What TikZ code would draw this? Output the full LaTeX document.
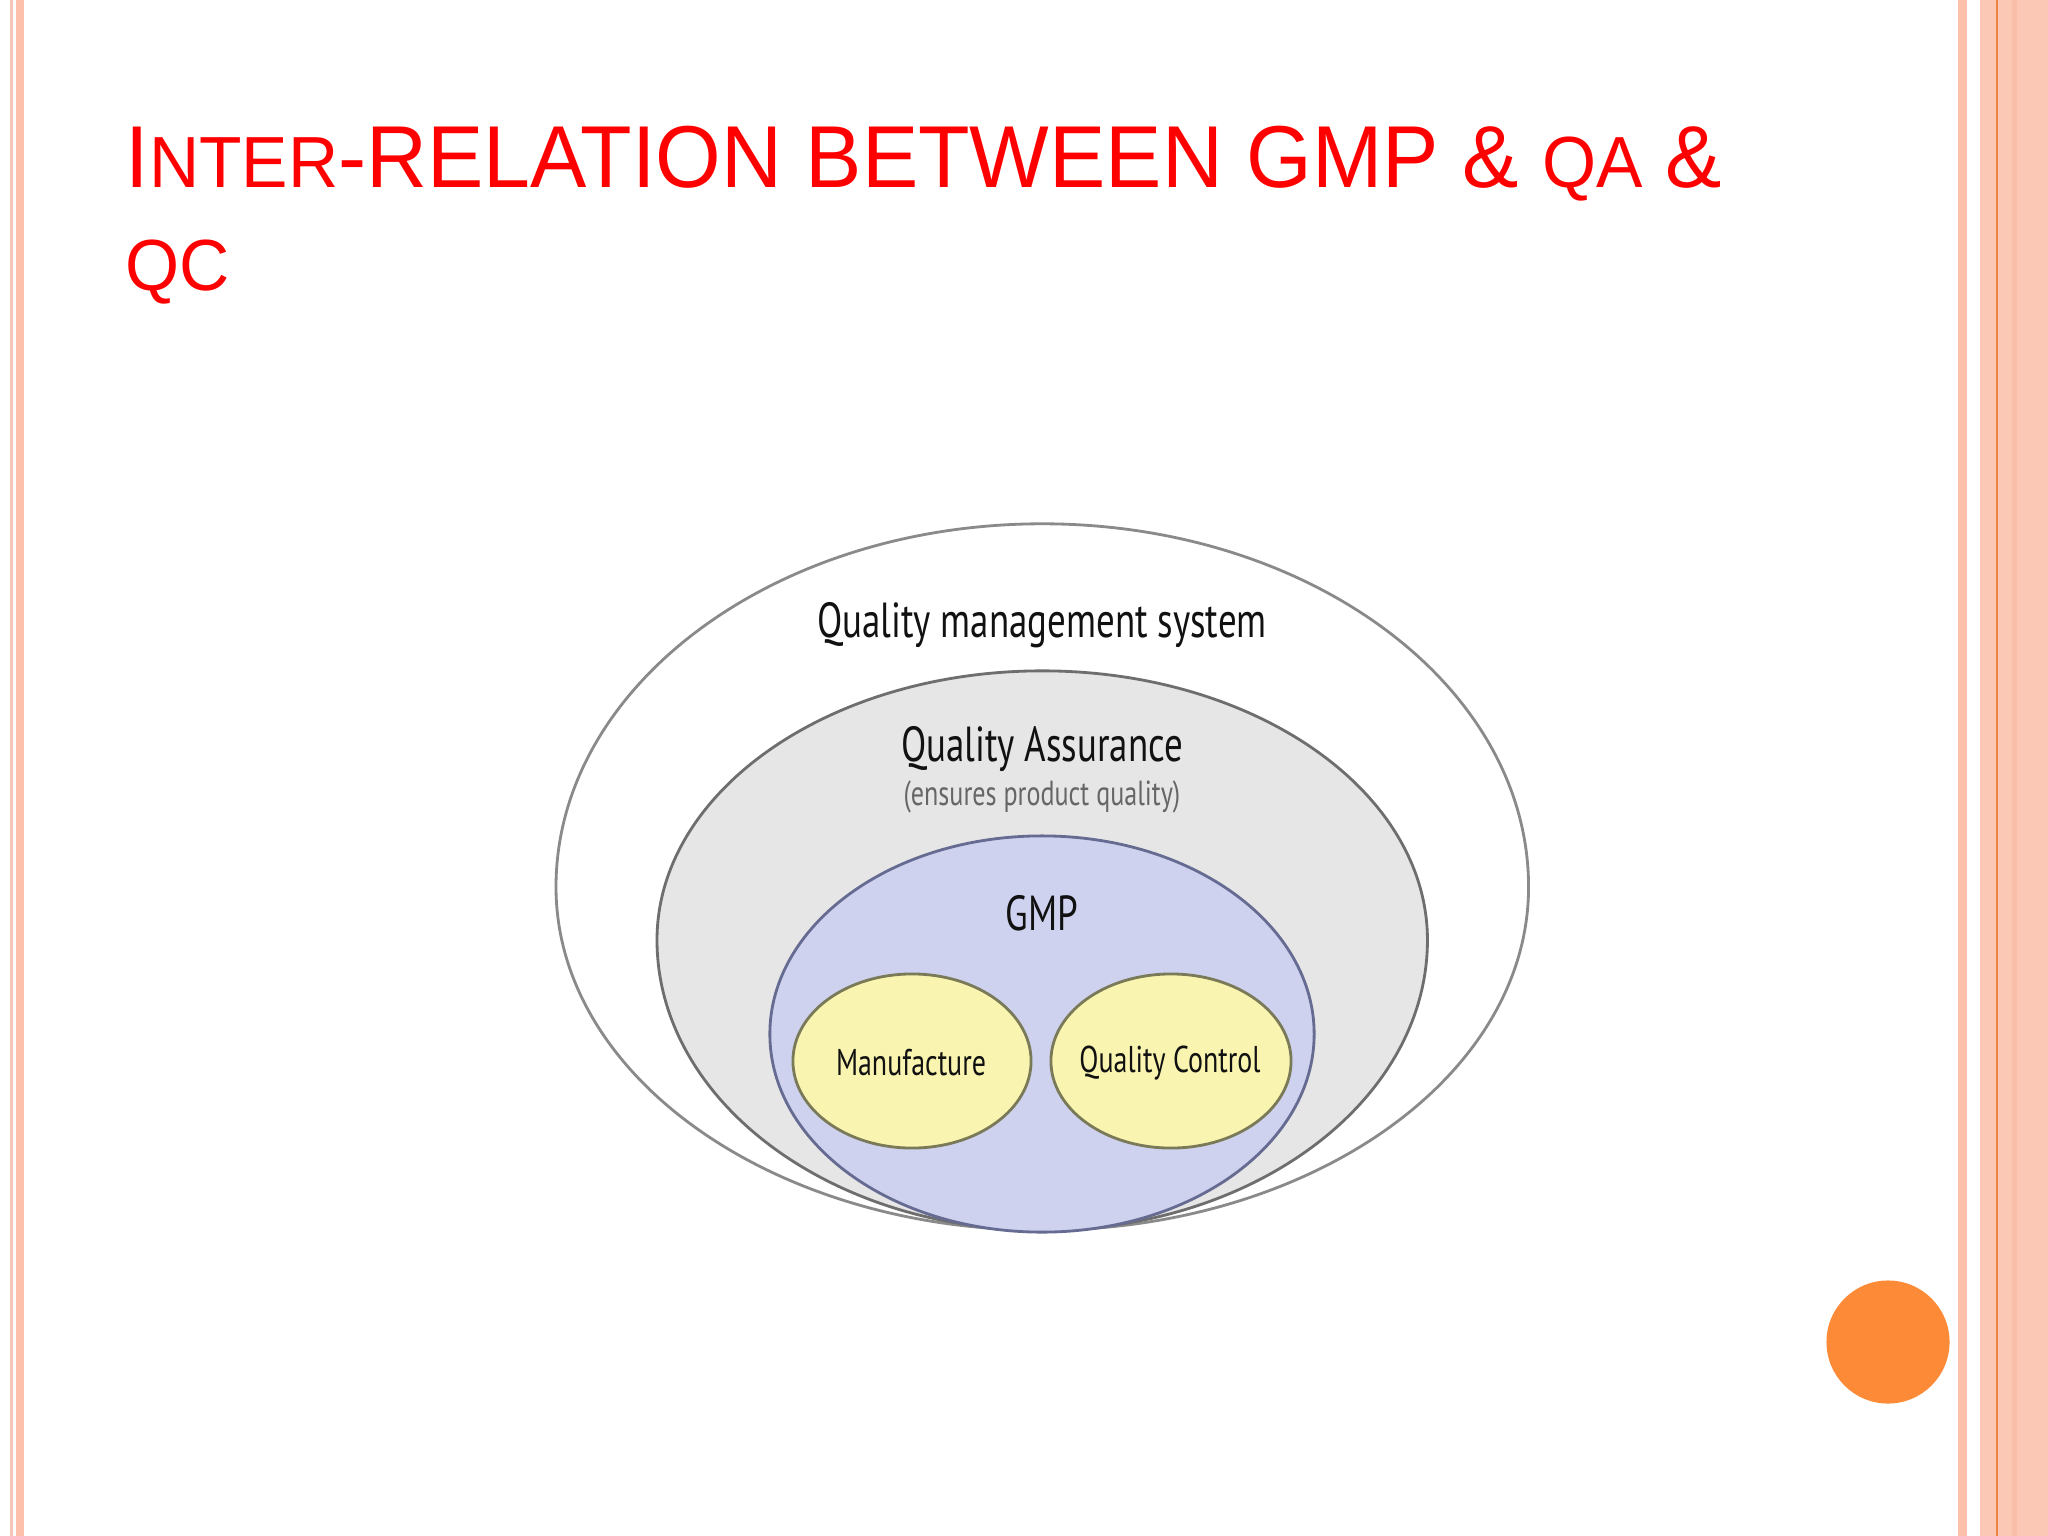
\documentclass[tikz,border=0pt]{standalone}
\usepackage{fontspec}
\usetikzlibrary{shapes.geometric}
\setmainfont{Liberation Sans}
\newfontfamily\titlefont[FakeStretch=0.96]{Liberation Sans}
\newfontfamily\labelfont[FakeStretch=0.75]{PT Sans}

\definecolor{titlered}{HTML}{FF0000}
\definecolor{stripepale}{HTML}{F4C6B8}
\definecolor{stripepink}{HTML}{FDC1AB}
\definecolor{sidepanel}{HTML}{FBC8B5}
\definecolor{sidedark}{HTML}{F8BEA8}
\definecolor{orangeline}{HTML}{EE8442}
\definecolor{dotorange}{HTML}{FD8A37}
\definecolor{qmsline}{HTML}{8A8A8A}
\definecolor{qafill}{HTML}{E6E6E6}
\definecolor{qaline}{HTML}{6E6E6E}
\definecolor{gmpfill}{HTML}{CED2EE}
\definecolor{gmpline}{HTML}{666B92}
\definecolor{unitfill}{HTML}{F9F5B0}
\definecolor{unitline}{HTML}{7A7A58}
\definecolor{labeltext}{HTML}{111111}

\newcommand{\smallcap}[1]{{\fontsize{20.6}{24}\selectfont #1}}

\begin{document}
\begin{tikzpicture}[x=0.01cm, y=-0.01cm,
    ring/.style={line width=0.8pt},
    lbl/.style={font=\labelfont\fontsize{14}{16}\selectfont, text=labeltext, inner sep=0pt, anchor=base},
    unitlbl/.style={font=\labelfont\fontsize{10.6}{13}\selectfont, text=labeltext, inner sep=0pt}]
    \useasboundingbox (0,0) rectangle (2048,1536);
    \fill[white] (0,0) rectangle (2048,1536);

    % Bordi laterali
    \fill[stripepale] (10,0) rectangle (13,1536);
    \fill[stripepink] (16,0) rectangle (24,1536);
    \fill[stripepink] (1958,0) rectangle (1967,1536);
    \fill[sidepanel] (1980,0) rectangle (2048,1536);
    \fill[sidedark] (2012,0) rectangle (2017,1536);
    \draw[orangeline, line width=0.35pt] (1997,0) -- (1997,1536);
    \fill[dotorange] (1888,1342) circle (0.615cm);

    % Titolo
    \node[anchor=base west, inner sep=0pt, text=titlered, font=\titlefont\fontsize{25}{30}\selectfont] (title1) at (125,187)
        {I\smallcap{NTER}-RELATION BETWEEN GMP \& \smallcap{QA} \&};
    \node[anchor=base west, inner sep=0pt, text=titlered, font=\titlefont\fontsize{25}{30}\selectfont] (title2) at (125,290)
        {\smallcap{QC}};

    % Sistema qualita (ellissi annidate)
    \draw[ring, draw=qmsline, fill=white] (556,887)
        arc[start angle=180, end angle=0, x radius=4.86cm, y radius=3.63cm]
        arc[start angle=0, end angle=-180, x radius=4.86cm, y radius=3.43cm] -- cycle;
    \draw[ring, draw=qaline, fill=qafill] (657,940)
        arc[start angle=180, end angle=0, x radius=3.85cm, y radius=2.69cm]
        arc[start angle=0, end angle=-180, x radius=3.85cm, y radius=2.90cm] -- cycle;
    \draw[ring, draw=gmpline, fill=gmpfill] (1042,1034) ellipse [x radius=2.72cm, y radius=1.98cm];
    \draw[ring, draw=unitline, fill=unitfill] (912,1061) ellipse [x radius=1.19cm, y radius=0.87cm];
    \draw[ring, draw=unitline, fill=unitfill] (1171,1061) ellipse [x radius=1.20cm, y radius=0.87cm];

    % Etichette
    \node[unitlbl] (manuf) at (911,1063) {Manufacture};
    \node[unitlbl] (qc) at (1170,1063) {Quality Control};
    \node[lbl] (qms) at (1042,637) {Quality management system};
    \node[lbl] (qa) at (1042,761) {Quality Assurance};
    \node[lbl, font=\labelfont\fontsize{9.9}{11}\selectfont, text=black!60] (qanote) at (1042,805) {(ensures product quality)};
    \node[lbl] (gmp) at (1042,930) {GMP};
\end{tikzpicture}
\end{document}
